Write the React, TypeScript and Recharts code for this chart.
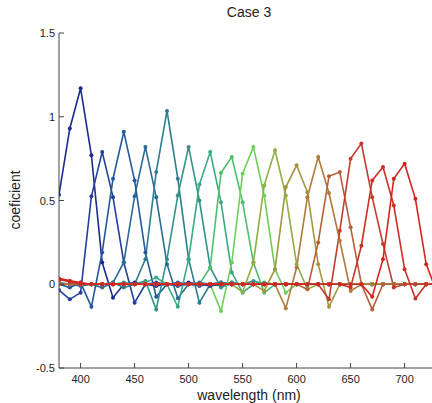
import React from 'react';
import { LineChart, Line, XAxis, YAxis } from 'recharts';

const wavelengths = [
  380, 390, 400, 410, 420, 430, 440, 450, 460, 470, 480, 490,
  500, 510, 520, 530, 540, 550, 560, 570, 580, 590, 600, 610,
  620, 630, 640, 650, 660, 670, 680, 690, 700, 710, 720, 730,
];

const xTicks = [400, 450, 500, 550, 600, 650, 700];
const yTicks = [-0.5, 0, 0.5, 1, 1.5];

// rows: 380-490 | 500-610 | 620-730
const s1 = [
  0.535, 0.93, 1.17, 0.77, 0.13, -0.08, 0, 0.01, 0, -0.01, 0, 0,
  0.01, 0, -0.01, 0, 0, 0, 0, 0, 0, 0, 0, 0,
  0, 0, 0, 0, 0, 0, 0, 0, 0, 0, 0, 0,
];
const s2 = [
  -0.035, -0.09, -0.05, 0.525, 0.79, 0.52, 0.13, -0.11, 0, 0.01, 0, -0.01,
  0, 0, 0, 0.01, 0, 0, 0, 0, 0, 0, 0, 0,
  0, 0, 0, 0, 0, 0, 0, 0, 0, 0, 0, 0,
];
const s3 = [
  0, -0.02, 0.01, -0.135, 0.19, 0.63, 0.91, 0.62, 0.19, -0.075, 0, 0.01,
  0, -0.01, 0, 0, 0.01, 0, 0, 0, 0, 0, 0, 0,
  0, 0, 0, 0, 0, 0, 0, 0, 0, 0, 0, 0,
];
const s4 = [
  0.01, 0, -0.01, 0, -0.02, 0.01, 0.13, 0.525, 0.82, 0.52, 0.12, -0.083,
  0, 0.01, 0, -0.01, 0, 0, 0, 0, 0, 0, 0, 0,
  0, 0, 0, 0, 0, 0, 0, 0, 0, 0, 0, 0,
];
const s5 = [
  0, 0, 0, 0, 0, 0.01, -0.02, 0, 0.15, 0.67, 1.035, 0.63,
  0.15, -0.11, 0, 0.01, 0, 0, 0, 0, 0, 0, 0, 0,
  0, 0, 0, 0, 0, 0, 0, 0, 0, 0, 0, 0,
];
const s6 = [
  0, 0, 0, 0, 0, 0, 0.01, 0, 0.02, -0.15, 0.15, 0.53,
  0.82, 0.5, 0.1, -0.02, 0.01, 0, 0.02, 0, 0, 0, 0, 0,
  0, 0, 0, 0, 0, 0, 0, 0, 0, 0, 0, 0,
];
const s7 = [
  0, 0, 0, 0, 0, 0, 0, 0, 0.01, 0.04, 0, -0.135,
  0.15, 0.595, 0.79, 0.49, 0.07, -0.05, 0, 0.01, 0, 0, 0, 0,
  0, 0, 0, 0, 0, 0, 0, 0, 0, 0, 0, 0,
];
const s8 = [
  0, 0, 0, 0, 0, 0, 0, 0, 0, 0, 0, 0,
  0, 0, 0.1, 0.665, 0.76, 0.49, 0.13, -0.05, 0, 0, 0, 0,
  0, 0, 0, 0, 0, 0, 0, 0, 0, 0, 0, 0,
];
const s9 = [
  0, 0, 0, 0, 0, 0, 0, 0, 0, 0, 0, 0,
  0, 0, 0, -0.16, 0.13, 0.66, 0.82, 0.53, 0.09, -0.05, 0, 0,
  0, 0, 0, 0, 0, 0, 0, 0, 0, 0, 0, 0,
];
const s10 = [
  0, 0, 0, 0, 0, 0, 0, 0, 0, 0, 0, 0,
  0, 0, 0, 0, 0, -0.046, 0.13, 0.59, 0.8, 0.53, 0.12, -0.03,
  0, 0, 0, 0, 0, 0, 0, 0, 0, 0, 0, 0,
];
const s11 = [
  0, 0, 0, 0, 0, 0, 0, 0, 0, 0, 0, 0,
  0, 0, 0, 0, 0, 0, 0, -0.04, 0.09, 0.58, 0.71, 0.55,
  0.12, -0.135, 0, 0, 0, 0, 0, 0, 0, 0, 0, 0,
];
const s12 = [
  0, 0, 0, 0, 0, 0, 0, 0, 0, 0, 0, 0,
  0, 0, 0, 0, 0, 0, 0, 0, 0, -0.143, 0.1, 0.52,
  0.76, 0.545, 0.26, -0.04, 0, 0, 0, 0, 0, 0, 0, 0,
];
const s13 = [
  0, 0, 0, 0, 0, 0, 0, 0, 0, 0, 0, 0,
  0, 0, 0, 0, 0, 0, 0, 0, 0, 0, 0, -0.03,
  0.25, 0.645, 0.67, 0.34, 0, -0.15, 0, 0, 0, 0, 0, 0,
];
const s14 = [
  0.03, 0.015, 0, 0, 0, 0, 0, 0, 0, 0, 0, 0,
  0, 0, 0, 0, 0, 0, 0, 0, 0, 0, 0, 0,
  0, -0.09, 0.32, 0.75, 0.84, 0.52, 0.24, -0.02, 0, 0, 0, 0,
];
const s15 = [
  0.025, 0.02, 0.01, 0, 0, 0, 0, 0, 0, 0, 0, 0,
  0, 0, 0, 0, 0, 0, 0, 0, 0, 0, 0, 0,
  0, 0, 0, -0.02, 0.23, 0.62, 0.7, 0.47, 0.09, -0.085, 0, 0,
];
const s16 = [
  0.035, 0.02, 0.005, 0, 0, 0, 0, 0, 0, 0, 0, 0,
  0, 0, 0, 0, 0, 0, 0, 0, 0, 0, 0, 0,
  0, 0, 0, 0, 0, -0.075, 0.15, 0.63, 0.72, 0.51, 0.12, -0.05,
];

const seriesValues = [s1, s2, s3, s4, s5, s6, s7, s8, s9, s10, s11, s12, s13, s14, s15, s16];
const seriesColors = [
  '#1c2a8f', '#23409a', '#24579a', '#2a6a94', '#2e7d8e', '#33938a', '#3aa882', '#4cc06c',
  '#6fce5a', '#8fae44', '#a4963e', '#b07a3a', '#b85e3a', '#c43c30', '#cc3028', '#d42420',
];

const data = wavelengths.map((w, i) => {
  const row: Record<string, number> = { w };
  seriesValues.forEach((vals, j) => {
    row['s' + j] = vals[i];
  });
  return row;
});

const AXIS = '#444';
const FONT = 'Arial, "Liberation Sans", Helvetica, sans-serif';

const BottomTick = (props: any) => {
  const { x, y, payload } = props;
  return (
    <g>
      <line x1={x} x2={x} y1={y} y2={y - 5} stroke={AXIS} strokeWidth={1} />
      <text x={x} y={y + 15} textAnchor="middle" fontSize={11} fill="#222" fontFamily={FONT}>
        {payload.value}
      </text>
    </g>
  );
};

const TopTick = (props: any) => {
  const { x, y } = props;
  return <line x1={x} x2={x} y1={y} y2={y + 5} stroke={AXIS} strokeWidth={1} />;
};

const LeftTick = (props: any) => {
  const { x, y, payload } = props;
  return (
    <g>
      <line x1={x} x2={x + 5} y1={y} y2={y} stroke={AXIS} strokeWidth={1} />
      <text x={x - 4} y={y + 4} textAnchor="end" fontSize={11} fill="#222" fontFamily={FONT}>
        {payload.value}
      </text>
    </g>
  );
};

export default function App() {
  return (
    <div
      style={{
        position: 'absolute',
        left: 0,
        top: 0,
        width: 432,
        height: 403,
        overflow: 'hidden',
        background: '#fff',
        fontFamily: FONT,
      }}
    >
      <div
        style={{
          position: 'absolute',
          left: 199,
          top: 4,
          width: 100,
          textAlign: 'center',
          fontSize: 14,
          lineHeight: '16px',
          color: '#222',
        }}
      >
        Case 3
      </div>
      <div
        style={{
          position: 'absolute',
          left: 149,
          top: 387,
          width: 200,
          textAlign: 'center',
          fontSize: 14,
          lineHeight: '16px',
          color: '#222',
        }}
      >
        wavelength (nm)
      </div>
      <div
        style={{
          position: 'absolute',
          left: 15 - 50,
          top: 200 - 8,
          width: 100,
          textAlign: 'center',
          fontSize: 14,
          lineHeight: '16px',
          color: '#222',
          transform: 'rotate(-90deg)',
        }}
      >
        coeficient
      </div>
      <div style={{ position: 'absolute', left: 0, top: 0 }}>
        <LineChart width={445} height={403} data={data} margin={{ top: 33, right: 8, bottom: 5, left: 0 }}>
          <XAxis
            xAxisId="b"
            dataKey="w"
            type="number"
            domain={[380, 730]}
            ticks={xTicks}
            height={30}
            tickSize={0}
            tickMargin={0}
            tickLine={false}
            tick={<BottomTick />}
            axisLine={{ stroke: AXIS }}
            allowDataOverflow
          />
          <XAxis
            xAxisId="t"
            orientation="top"
            dataKey="w"
            type="number"
            domain={[380, 730]}
            ticks={xTicks}
            height={0}
            tickSize={0}
            tickMargin={0}
            tickLine={false}
            tick={<TopTick />}
            axisLine={{ stroke: AXIS }}
            allowDataOverflow
          />
          <YAxis
            type="number"
            domain={[-0.5, 1.5]}
            ticks={yTicks}
            width={59}
            tickSize={0}
            tickMargin={0}
            tickLine={false}
            tick={<LeftTick />}
            axisLine={{ stroke: AXIS }}
            allowDataOverflow
          />
          {seriesValues.map((_, j) => (
            <Line
              key={j}
              xAxisId="b"
              dataKey={'s' + j}
              stroke={seriesColors[j]}
              strokeWidth={1.6}
              dot={{ r: 2, fill: seriesColors[j], stroke: seriesColors[j], strokeWidth: 0 }}
              isAnimationActive={false}
            />
          ))}
        </LineChart>
      </div>
    </div>
  );
}
